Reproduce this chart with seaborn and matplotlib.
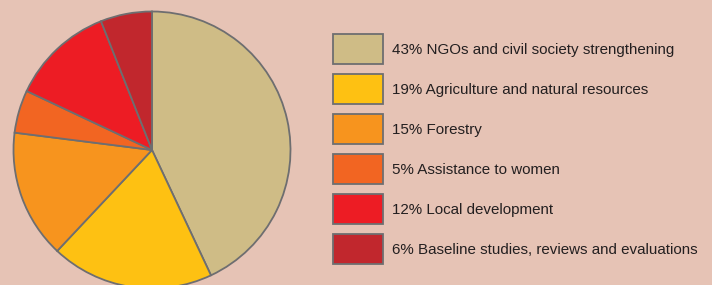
import matplotlib
matplotlib.use('Agg')
import matplotlib.pyplot as plt
import seaborn as sns

labels = ['43% NGOs and civil society strengthening',
          '19% Agriculture and natural resources',
          '15% Forestry',
          '5% Assistance to women',
          '12% Local development',
          '6% Baseline studies, reviews and evaluations']
shares = [43, 19, 15, 5, 12, 6]
colors = ['#CFBC86', '#FEC112', '#F7941E', '#F26522', '#ED1C24', '#C1272D']

bg = '#E6C3B5'
edge = '#6E6E70'

sns.set_style('white')
plt.rcParams['font.family'] = ['Liberation Sans', 'DejaVu Sans']

W, H = 712, 285
fig = plt.figure(figsize=(W / 100, H / 100), dpi=100, facecolor=bg)

# pie axes, square, centred on (152, 150) px with radius ~138.5 px
r = 138.5
cx, cy = 152, H - 150
ax = fig.add_axes([(cx - r) / W, (cy - r) / H, 2 * r / W, 2 * r / H])
ax.set_facecolor(bg)
wedges, _ = ax.pie(shares, colors=sns.color_palette(colors), startangle=90,
                   counterclock=False, radius=1,
                   wedgeprops=dict(edgecolor=edge, linewidth=1.3))
ax.set_xlim(-1, 1)
ax.set_ylim(-1, 1)
ax.axis('off')

fs = 10.9
fpx = fs * 100 / 72
# legend patch height = fs*hh - 0.35*fs*(hh-0.7)  (in points)
box_pt = 30 * 72 / 100
hh = (box_pt - 0.35 * 0.7 * fs) / (0.65 * fs)
leg = fig.legend(wedges, labels, loc='upper left',
                 bbox_to_anchor=(333 / W, 1 - 34 / H),
                 frameon=False, fontsize=fs,
                 handlelength=50 / fpx, handleheight=hh,
                 handletextpad=9 / fpx, labelspacing=10 / fpx,
                 borderpad=0, borderaxespad=0)
for t in leg.get_texts():
    t.set_color('#231F20')

fig.savefig('out.png', dpi=100, facecolor=bg)
